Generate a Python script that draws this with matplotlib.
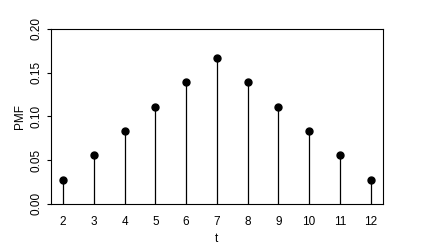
import matplotlib.pyplot as plt

# sum of two dice
t = [2, 3, 4, 5, 6, 7, 8, 9, 10, 11, 12]
pmf = [1/36, 2/36, 3/36, 4/36, 5/36, 6/36, 5/36, 4/36, 3/36, 2/36, 1/36]
yticks = [0.00, 0.05, 0.10, 0.15, 0.20]
ylabels = ['0.00', '0.05', '0.10', '0.15', '0.20']

plt.rcParams['font.family'] = ['Liberation Sans', 'DejaVu Sans']

fig = plt.figure(figsize=(4.26, 2.49), dpi=100)
ax = fig.add_axes([0.119, 0.181, 0.780, 0.703])

ax.vlines(t, 0, pmf, colors='black', linewidth=0.9)
ax.plot(t, pmf, 'o', color='black', markersize=5)

ax.set_xlim(1.6, 12.4)
ax.set_ylim(0, 0.2)
ax.set_xticks(t)
ax.set_yticks(yticks)
ax.set_yticklabels(ylabels, rotation=90, va='center')
ax.tick_params(axis='x', length=0, pad=9, labelsize=8.5)
ax.tick_params(axis='y', length=3, width=0.8, pad=3, labelsize=8.5)
for s in ax.spines.values():
    s.set_linewidth(0.8)

ax.set_xlabel('t', fontsize=8.5, labelpad=3)
ax.set_ylabel('PMF', fontsize=8.5, labelpad=3)

fig.savefig('out.png', dpi=100)
